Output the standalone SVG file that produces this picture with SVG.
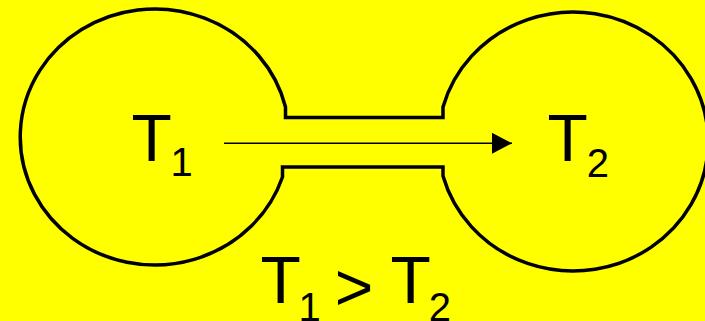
<svg xmlns="http://www.w3.org/2000/svg" width="705" height="321" viewBox="0 0 705 321">
  <style>
    .outline { fill: none; stroke: #000; stroke-width: 3.5; stroke-linejoin: miter; }
    .big { font-family: "Liberation Sans", Arial, sans-serif; font-size: 66px; fill: #000; }
    .sub { font-size: 40px; }
    .flow { stroke: #000; stroke-width: 1.6; fill: none; }
  </style>
  <defs>
    <marker id="arrowhead" markerWidth="20" markerHeight="21" refX="20" refY="10.5" orient="auto" markerUnits="userSpaceOnUse">
      <polygon points="0,0 20,10.5 0,21" fill="#000"/>
    </marker>
  </defs>
  <rect x="0" y="0" width="705" height="321" fill="#ffff00"/>
  <g id="vessel">
    <path class="outline" d="M 285.5 107 A 134.5 128 0 1 0 282.5 177 L 282.5 167 L 443 167 L 443 176 A 135 129.5 0 1 0 443 107 L 443 117.5 L 285.5 117.5 Z"/>
  </g>
  <g id="connectors">
    <line class="flow" x1="224" y1="143.3" x2="512" y2="143.3" marker-end="url(#arrowhead)"/>
  </g>
  <g id="label-t1">
    <text class="big" x="131.5" y="161">T<tspan class="sub" x="170.6" y="176">1</tspan></text>
  </g>
  <g id="label-t2">
    <text class="big" x="547.5" y="161">T<tspan class="sub" x="586.8" y="177">2</tspan></text>
  </g>
  <g id="label-relation">
    <text class="big" x="260.5" y="303">T<tspan class="sub" x="298.5" y="321">1</tspan><tspan x="334.8" y="310">&gt;</tspan><tspan x="390.5" y="303">T</tspan><tspan class="sub" x="428.8" y="321">2</tspan></text>
  </g>
</svg>
